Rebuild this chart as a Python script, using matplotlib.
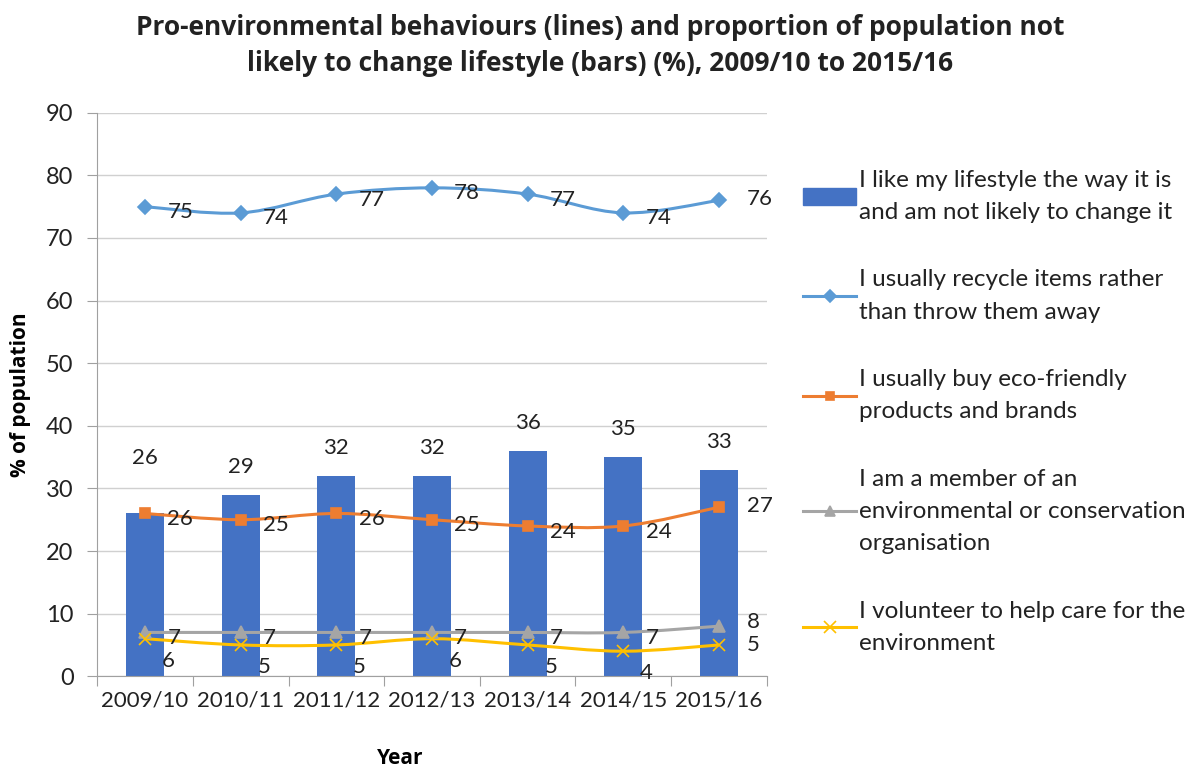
import numpy as np
import matplotlib
matplotlib.use('Agg')
import matplotlib.pyplot as plt
from matplotlib.path import Path
from matplotlib.patches import PathPatch, Patch
from matplotlib.lines import Line2D

plt.rcParams['font.family'] = ['Lato', 'DejaVu Sans']

years = ['2009/10', '2010/11', '2011/12', '2012/13', '2013/14', '2014/15', '2015/16']
not_change = [26, 29, 32, 32, 36, 35, 33]
recycle = [75, 74, 77, 78, 77, 74, 76]
eco_buy = [26, 25, 26, 25, 24, 24, 27]
member = [7, 7, 7, 7, 7, 7, 8]
volunteer = [6, 5, 5, 6, 5, 4, 5]

labels = ['I like my lifestyle the way it is\nand am not likely to change it',
          'I usually recycle items rather\nthan throw them away',
          'I usually buy eco-friendly\nproducts and brands',
          'I am a member of an\nenvironmental or conservation\norganisation',
          'I volunteer to help care for the\nenvironment']

c_bar = '#4472C4'
c_rec = '#5B9BD5'
c_eco = '#ED7D31'
c_mem = '#A5A5A5'
c_vol = '#FFC000'


def smooth_path(x, y):
    # excel-style smoothed line as cubic beziers through the points
    pts = np.column_stack([x, y]).astype(float)
    n = len(pts)
    verts = [pts[0]]
    codes = [Path.MOVETO]
    for i in range(n - 1):
        p0 = pts[i - 1] if i > 0 else pts[i]
        p1 = pts[i]
        p2 = pts[i + 1]
        p3 = pts[i + 2] if i + 2 < n else pts[i + 1]
        verts += [p1 + (p2 - p0) / 6, p2 - (p3 - p1) / 6, p2]
        codes += [Path.CURVE4] * 3
    return Path(verts, codes)


fig = plt.figure(figsize=(12, 7.72), dpi=100)
ax = fig.add_axes([0.081, 0.124, 0.558, 0.73])

x = np.arange(len(years))
ax.bar(x, not_change, width=0.4, color=c_bar, zorder=2)
for xi, v in zip(x, not_change):
    dy = 40 if xi == 0 else 20
    ax.annotate(str(v), (xi, v), xytext=(0, dy), textcoords='offset points',
                ha='center', va='center', fontsize=16, color='#222222')

series = [(recycle, c_rec, 'D', 7), (eco_buy, c_eco, 's', 7),
          (member, c_mem, '^', 8), (volunteer, c_vol, 'x', 9)]
for vals, col, mk, ms in series:
    ax.add_patch(PathPatch(smooth_path(x, vals), fill=False, edgecolor=col,
                           lw=2.2, zorder=3))
    ax.plot(x, vals, ls='none', marker=mk, ms=ms, color=col, mec=col,
            mew=1.2, zorder=4)

for i, (vals, col, mk, ms) in enumerate(series):
    for xi, v in zip(x, vals):
        off = (16, -4)
        if i == 3:
            off = (12, -16) if xi < len(x) - 1 else (20, 0)
        if i == 2 and xi == len(x) - 1:
            off = (20, 3)
        if i in (0, 1) and xi == len(x) - 1:
            off = (20, 1)
        ax.annotate(str(v), (xi, v), xytext=off, textcoords='offset points',
                    ha='left', va='center', fontsize=16, color='#222222',
                    zorder=5)

ax.set_xlim(-0.5, len(years) - 0.5)
ax.set_ylim(0, 90)
ax.set_yticks(range(0, 91, 10))
ax.set_xticks(np.arange(-0.5, len(years), 1.0))
ax.set_xticklabels([])
ax.set_xticks(x, minor=True)
ax.set_xticklabels(years, minor=True)
ax.tick_params(axis='x', which='minor', length=0, pad=10, labelsize=16)
ax.tick_params(axis='x', which='major', length=7, color='#A0A0A0')
ax.tick_params(axis='y', length=7, color='#A0A0A0', labelsize=17, pad=10)
for t in ax.get_xticklabels(minor=True) + ax.get_yticklabels():
    t.set_color('#222222')
ax.grid(axis='y', color='#D0D0D0', lw=1, zorder=0)
ax.set_axisbelow(True)
for s in ('top', 'right'):
    ax.spines[s].set_visible(False)
for s in ('left', 'bottom'):
    ax.spines[s].set_color('#A0A0A0')

ax.set_xlabel('Year', fontsize=15, fontweight='bold', family='Open Sans')
ax.xaxis.set_label_coords((400 - 97) / 670, -72 / 563)
ax.set_ylabel('% of population', fontsize=15, fontweight='bold', family='Open Sans')
ax.yaxis.set_label_coords(-66 / 670, 0.5)

fig.suptitle('Pro-environmental behaviours (lines) and proportion of population not\n'
             'likely to change lifestyle (bars) (%), 2009/10 to 2015/16',
             fontsize=19, fontweight='bold', family='Open Sans', y=0.982,
             linespacing=1.45, color='#222222')

handles = [Patch(color=c_bar)]
for vals, col, mk, ms in series:
    handles.append(Line2D([0], [0], color=col, lw=2.2, marker=mk, ms=ms - 1,
                          mec=col, mew=1.2))
leg = fig.legend(handles, labels, loc='upper left', bbox_to_anchor=(0.669, 0.78),
                 frameon=False, fontsize=17.5, labelspacing=1.9, handlelength=2.2,
                 handletextpad=0.1, borderpad=0, borderaxespad=0,
                 labelcolor='#222222')
for t in leg.get_texts():
    t.set_linespacing(1.67)

fig.savefig('out.png', dpi=100)
